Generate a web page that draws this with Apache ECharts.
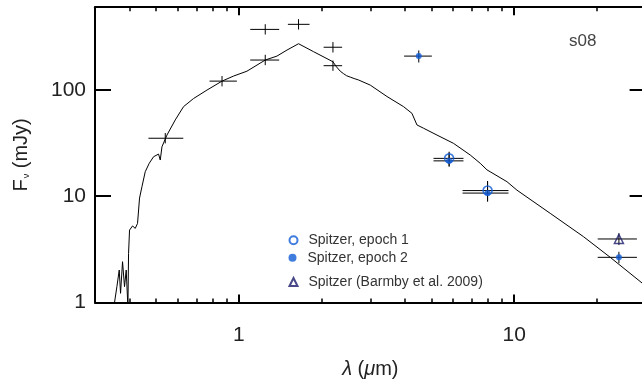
<!DOCTYPE html>
<html><head><meta charset="utf-8">
<script src="https://cdn.jsdelivr.net/npm/echarts@6/dist/echarts.min.js"></script>
<style>html,body{margin:0;padding:0;background:#fff}#c{width:642px;height:381px}</style>
</head><body><div id="c"></div>
<script>
// ---- model SED curve ----
const modelLambda = [0.350,0.3532,0.3603,0.3674,0.3715,0.3777,0.3840,0.3895,0.3951,0.3972,0.4005,0.4107,0.4201,0.4282,0.4354,0.4443,0.4567,0.4722,0.4895,0.5105,0.5178,0.5253,0.5476,0.5870,0.6290,0.6842,0.7651,0.868,0.956,1.069,1.246,1.374,1.494,1.646,1.866,2.195,2.26,2.333,2.40,2.46,2.537,2.62,2.719,2.758,2.999,3.449,3.962,4.250,4.432,4.683,5.240,6.020,6.921,7.523,7.958,9.408,10.23,13.51,17.85,22.32,29.17,30.0];
const modelFlux   = [0.8,1.0,1.41,2.02,1.22,2.42,1.41,2.02,0.9,2.9,4.8,5.25,4.98,5.55,9.6,12.3,17.0,20.4,23.5,24.9,21.9,29.2,37.6,52.2,69.6,83,99.6,121,135,150,191,208,237,272,229,184,165,150,142,136,132,128,124,123,111,86.7,69.6,60.2,46.8,43.6,37.6,31.4,24.4,20.4,17.7,13.7,11.4,6.9,4.16,2.66,1.52,1.48];

// ---- ground-based photometry (black crosses) ----
const photLambda   = [0.540,0.868,1.246,1.246,1.646,2.195,2.195];
const photLambdaLo = [0.469,0.782,1.099,1.099,1.506,2.03,2.03];
const photLambdaHi = [0.628,0.983,1.40,1.40,1.805,2.37,2.37];
const photFlux     = [35.1,121,191,371,414,252,169];
const photFluxLo   = [31.4,108,171,332,370,225,151];
const photFluxHi   = [39.3,135,214,415,463,282,189];

// ---- Spitzer epoch 1 (open circles) ----
const ep1Lambda   = [5.8,8.0];
const ep1LambdaLo = [5.09,6.49];
const ep1LambdaHi = [6.54,9.53];
const ep1Flux     = [22.7,11.3];
const ep1FluxLo   = [19.3,9.0];
const ep1FluxHi   = [26.2,13.9];

// ---- Spitzer epoch 2 (filled circles) ----
const ep2Lambda   = [4.5,5.8,8.0,24.0];
const ep2LambdaLo = [3.98,5.09,6.49,20.1];
const ep2LambdaHi = [5.02,6.54,9.53,27.9];
const ep2Flux     = [208,21.5,10.7,2.66];
const ep2FluxLo   = [181,18.9,8.88,2.34];
const ep2FluxHi   = [235,25.7,13.7,3.0];

// ---- Spitzer (Barmby et al. 2009) triangle ----
const barLambda   = [24.0];
const barLambdaLo = [20.1];
const barLambdaHi = [27.9];
const barFlux     = [3.96];
const barFluxLo   = [3.47];
const barFluxHi   = [4.48];

// ---- tick labels ----
const xTickLabels = [1, 10];
const yTickLabels = [1, 10, 100];

const BLUE = '#0f5bd6';
const NAVY = '#1c1c6c';
const FONT = '"Liberation Sans", Arial, Helvetica, sans-serif';

function zip(l, f) { return l.map((v, i) => [v, f[i]]); }
function errData(l, lo, hi, f, flo, fhi) { return l.map((v, i) => [v, f[i], lo[i], hi[i], flo[i], fhi[i]]); }

function errRender(params, api) {
  const x = api.value(0), y = api.value(1);
  const pL = api.coord([api.value(2), y]);
  const pR = api.coord([api.value(3), y]);
  const pB = api.coord([x, api.value(4)]);
  const pT = api.coord([x, api.value(5)]);
  return { type: 'group', children: [
    { type: 'line', shape: { x1: pL[0], y1: pL[1], x2: pR[0], y2: pR[1] }, style: { stroke: '#000', lineWidth: 1 } },
    { type: 'line', shape: { x1: pB[0], y1: pB[1], x2: pT[0], y2: pT[1] }, style: { stroke: '#000', lineWidth: 1 } }
  ]};
}
function errSeries(data) {
  return { type: 'custom', renderItem: errRender, data: data, encode: { x: 0, y: 1 }, z: 3, silent: true };
}

const xBase = { type: 'log', logBase: 10, min: 0.3, max: 30, gridIndex: 0, splitLine: { show: false } };
const yBase = { type: 'log', logBase: 10, min: 1, max: 600, gridIndex: 0, splitLine: { show: false } };

const legendText = { fontSize: 14, color: '#333', fontFamily: FONT, padding: [0, 0, 0, 6] };

const chart = echarts.init(document.getElementById('c'), null, { renderer: 'canvas' });
chart.setOption({
  animation: false,
  backgroundColor: '#fff',
  textStyle: { fontFamily: FONT },
  title: { text: 's08', left: 569, top: 33, padding: 0, textStyle: { fontSize: 17, fontWeight: 'normal', color: '#444', fontFamily: FONT } },
  grid: { left: 95, top: 7.2, width: 550.6, height: 295.3, containLabel: false, outerBoundsMode: 'none' },
  legend: [
    { data: ['Spitzer, epoch 1'], left: 288.5, top: 233.3, padding: 0, itemWidth: 8, itemHeight: 8, textStyle: legendText, selectedMode: false },
    { data: ['Spitzer, epoch 2'], left: 288.5, top: 250.7, padding: 0, itemWidth: 8, itemHeight: 8, textStyle: legendText, selectedMode: false },
    { data: ['Spitzer (Barmby et al. 2009)'], left: 288.5, top: 275, padding: 0, itemWidth: 8, itemHeight: 8, textStyle: legendText, selectedMode: false }
  ],
  xAxis: [
    Object.assign({}, xBase, {
      position: 'bottom',
      axisLine: { show: true, lineStyle: { color: '#000', width: 2 } },
      axisTick: { show: true, inside: true, length: 8, lineStyle: { color: '#000', width: 2 } },
      minorTick: { show: true, splitNumber: 9, length: 4, lineStyle: { color: '#000', width: 1.5 } },
      axisLabel: { show: true, customValues: xTickLabels, margin: 22, fontSize: 21, color: '#222', fontFamily: FONT },
      name: '{i|λ} ({i|μ}m)', nameLocation: 'middle', nameGap: 57,
      nameTextStyle: { fontSize: 20, color: '#222', fontFamily: FONT, rich: { i: { fontSize: 20, fontStyle: 'italic', color: '#222', fontFamily: FONT } } }
    }),
    Object.assign({}, xBase, {
      position: 'top',
      axisLine: { show: true, lineStyle: { color: '#000', width: 2 } },
      axisTick: { show: true, inside: true, length: 8, lineStyle: { color: '#000', width: 2 } },
      minorTick: { show: true, splitNumber: 9, length: 4, lineStyle: { color: '#000', width: 1.5 } },
      axisLabel: { show: false }
    })
  ],
  yAxis: [
    Object.assign({}, yBase, {
      position: 'left',
      axisLine: { show: true, lineStyle: { color: '#000', width: 2 } },
      axisTick: { show: true, inside: true, length: 16, lineStyle: { color: '#000', width: 2 } },
      axisLabel: { show: true, customValues: yTickLabels, margin: 9, fontSize: 21, color: '#222', fontFamily: FONT },
      name: '{f|F}{s|ν} (mJy)', nameLocation: 'middle', nameGap: 64,
      nameTextStyle: { fontSize: 20, color: '#222', fontFamily: FONT, rich: { f: { fontSize: 20, color: '#222', fontFamily: FONT }, s: { fontSize: 9, color: '#222', fontFamily: FONT, verticalAlign: 'bottom', padding: [10, 0, 0, 1] } } }
    }),
    Object.assign({}, yBase, {
      position: 'right',
      axisLine: { show: true, lineStyle: { color: '#000', width: 2 } },
      axisTick: { show: true, inside: true, length: 16, lineStyle: { color: '#000', width: 2 } },
      axisLabel: { show: false }
    })
  ],
  series: [
    { name: 'model', type: 'line', data: zip(modelLambda, modelFlux), showSymbol: false, symbol: 'none', clip: true,
      lineStyle: { color: '#000', width: 1 }, z: 2, silent: true },
    errSeries(errData(photLambda, photLambdaLo, photLambdaHi, photFlux, photFluxLo, photFluxHi)),
    errSeries(errData(ep1Lambda, ep1LambdaLo, ep1LambdaHi, ep1Flux, ep1FluxLo, ep1FluxHi)),
    errSeries(errData(ep2Lambda, ep2LambdaLo, ep2LambdaHi, ep2Flux, ep2FluxLo, ep2FluxHi)),
    errSeries(errData(barLambda, barLambdaLo, barLambdaHi, barFlux, barFluxLo, barFluxHi)),
    { name: 'Spitzer, epoch 1', type: 'scatter', data: zip(ep1Lambda, ep1Flux), symbol: 'circle', symbolSize: 9,
      itemStyle: { color: 'rgba(255,255,255,0)', borderColor: BLUE, borderWidth: 1.6 }, z: 5 },
    { name: 'Spitzer, epoch 2', type: 'scatter', data: zip(ep2Lambda, ep2Flux), symbol: 'circle', symbolSize: 6,
      itemStyle: { color: BLUE }, z: 6 },
    { name: 'Spitzer (Barmby et al. 2009)', type: 'scatter', data: zip(barLambda, barFlux), symbol: 'triangle', symbolSize: [9, 9],
      itemStyle: { color: 'rgba(255,255,255,0)', borderColor: NAVY, borderWidth: 1.5 }, z: 5 }
  ]
});
</script></body></html>
